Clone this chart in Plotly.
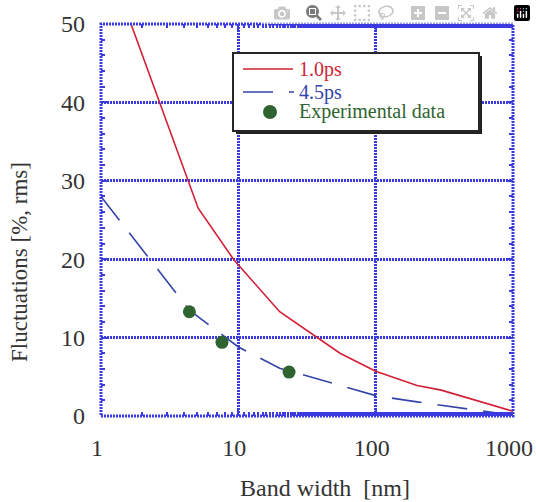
import plotly.graph_objects as go

# Data
bw_1ps = [1, 5.1, 9.3, 20, 55, 100, 200, 300, 1000]
fl_1ps = [60.5, 26.5, 19.9, 13.3, 8.0, 5.7, 3.9, 3.3, 0.6]

bw_45ps = [1, 4.4, 10, 20, 100, 200, 1000]
fl_45ps = [28.0, 13.5, 8.8, 6.1, 2.6, 1.8, 0.1]

bw_exp = [4.4, 7.6, 23.4]
fl_exp = [13.3, 9.4, 5.6]

x_ticks = [1, 10, 100, 1000]
x_tick_labels = ["1", "10", "100", "1000"]
y_ticks = [0, 10, 20, 30, 40, 50]

series_names = ["1.0ps", "4.5ps", "Experimental data"]

RED = "#d21f35"
BLUE = "#3444a8"
GREEN = "#2f6430"
GRID = "#3a3ae0"
FONT = "Liberation Serif"
TXT = "#333333"

# body margin is removed in the page (post_script), so figure = full window
OFF = 0
W, H = 536 - OFF, 502 - OFF
L, R, T, B = 101 - OFF, 536 - 513, 24 - OFF, 502 - 416
pw = W - L - R
ph = H - T - B


def px(wx):
    return (wx - OFF - L) / pw


def py(wy):
    return (H - B - (wy - OFF)) / ph


fig = go.Figure()
fig.add_trace(go.Scatter(x=bw_1ps, y=fl_1ps, mode="lines",
                         line=dict(color=RED, width=1.6), name=series_names[0]))
fig.add_trace(go.Scatter(x=bw_45ps, y=fl_45ps, mode="lines",
                         line=dict(color=BLUE, width=1.6, dash="30px,16px"), name=series_names[1]))
fig.add_trace(go.Scatter(x=bw_exp, y=fl_exp, mode="markers",
                         marker=dict(color=GREEN, size=13), name=series_names[2]))

shapes = [
    # legend shadow
    dict(type="rect", xref="paper", yref="paper",
         x0=px(236), x1=px(482), y0=py(134), y1=py(56),
         fillcolor="#222222", line=dict(width=0), layer="above"),
    # legend box
    dict(type="rect", xref="paper", yref="paper",
         x0=px(233), x1=px(479), y0=py(131), y1=py(53),
         fillcolor="white", line=dict(color="#262626", width=2), layer="above"),
    # legend samples
    dict(type="line", xref="paper", yref="paper", x0=px(243), x1=px(293), y0=py(69), y1=py(69),
         line=dict(color=RED, width=1.6), layer="above"),
    dict(type="line", xref="paper", yref="paper", x0=px(243), x1=px(294), y0=py(92), y1=py(92),
         line=dict(color=BLUE, width=1.6, dash="30px,16px"), layer="above"),
    dict(type="circle", xref="paper", yref="paper", x0=px(263), x1=px(277), y0=py(119), y1=py(105),
         fillcolor=GREEN, line=dict(color=GREEN, width=0), layer="above"),
    # frame
    dict(type="rect", xref="paper", yref="paper", x0=0, x1=1, y0=0, y1=1,
         line=dict(color=GRID, width=3, dash="2px,1px"), layer="above"),
]

annotations = [
    dict(text="Band width&nbsp; [nm]", xref="paper", yref="paper",
         x=px(325), y=py(488), showarrow=False,
         font=dict(family=FONT, size=24, color=TXT), xanchor="center", yanchor="middle"),
    dict(text="Fluctuations [%, rms]", xref="paper", yref="paper",
         x=px(19), y=py(262), showarrow=False, textangle=-90,
         font=dict(family=FONT, size=23, color=TXT), xanchor="center", yanchor="middle"),
    dict(text=series_names[0], xref="paper", yref="paper", x=px(297), y=py(70),
         showarrow=False, xanchor="left", yanchor="middle",
         font=dict(family=FONT, size=20, color=RED)),
    dict(text=series_names[1], xref="paper", yref="paper", x=px(297), y=py(93),
         showarrow=False, xanchor="left", yanchor="middle",
         font=dict(family=FONT, size=20, color=BLUE)),
    dict(text=series_names[2], xref="paper", yref="paper", x=px(297), y=py(111),
         showarrow=False, xanchor="left", yanchor="middle",
         font=dict(family=FONT, size=20, color=GREEN)),
]

fig.update_layout(
    width=W, height=H,
    margin=dict(l=L, r=R, t=T, b=B, pad=0, autoexpand=False),
    paper_bgcolor="white", plot_bgcolor="white",
    font=dict(family=FONT, size=24, color=TXT),
    showlegend=False,
    shapes=shapes,
    annotations=annotations,
)

fig.update_xaxes(type="log", range=[0, 3], tickvals=x_ticks, ticktext=x_tick_labels,
                 tickfont=dict(family=FONT, size=24, color=TXT),
                 showgrid=True, gridcolor=GRID, gridwidth=3, griddash="2px,1px",
                 ticks="inside", ticklen=6, tickcolor=GRID, tickwidth=2,
                 minor=dict(ticks="inside", ticklen=4, tickcolor=GRID, tickwidth=1.5, showgrid=False),
                 showline=False, mirror="allticks", zeroline=False, automargin=False,
                 ticklabelstandoff=15, ticklabeloverflow="allow", ticklabelshift=-4)
fig.update_yaxes(range=[0, 50], tickvals=y_ticks,
                 showgrid=True, gridcolor=GRID, gridwidth=3, griddash="2px,1px",
                 ticks="inside", ticklen=6, tickcolor=GRID, tickwidth=2,
                 minor=dict(ticks="inside", ticklen=4, tickcolor=GRID, tickwidth=1.5, dtick=2, showgrid=False),
                 showline=False, mirror="allticks", zeroline=False, automargin=False,
                 ticklabelstandoff=15, ticklabeloverflow="allow")

# remove the default page margin and scrollbars so the figure fills the window
fig.write_html("out.html",
               post_script="document.body.style.margin='0';"
                           "document.documentElement.style.overflow='hidden';"
                           "document.body.style.overflow='hidden';")
